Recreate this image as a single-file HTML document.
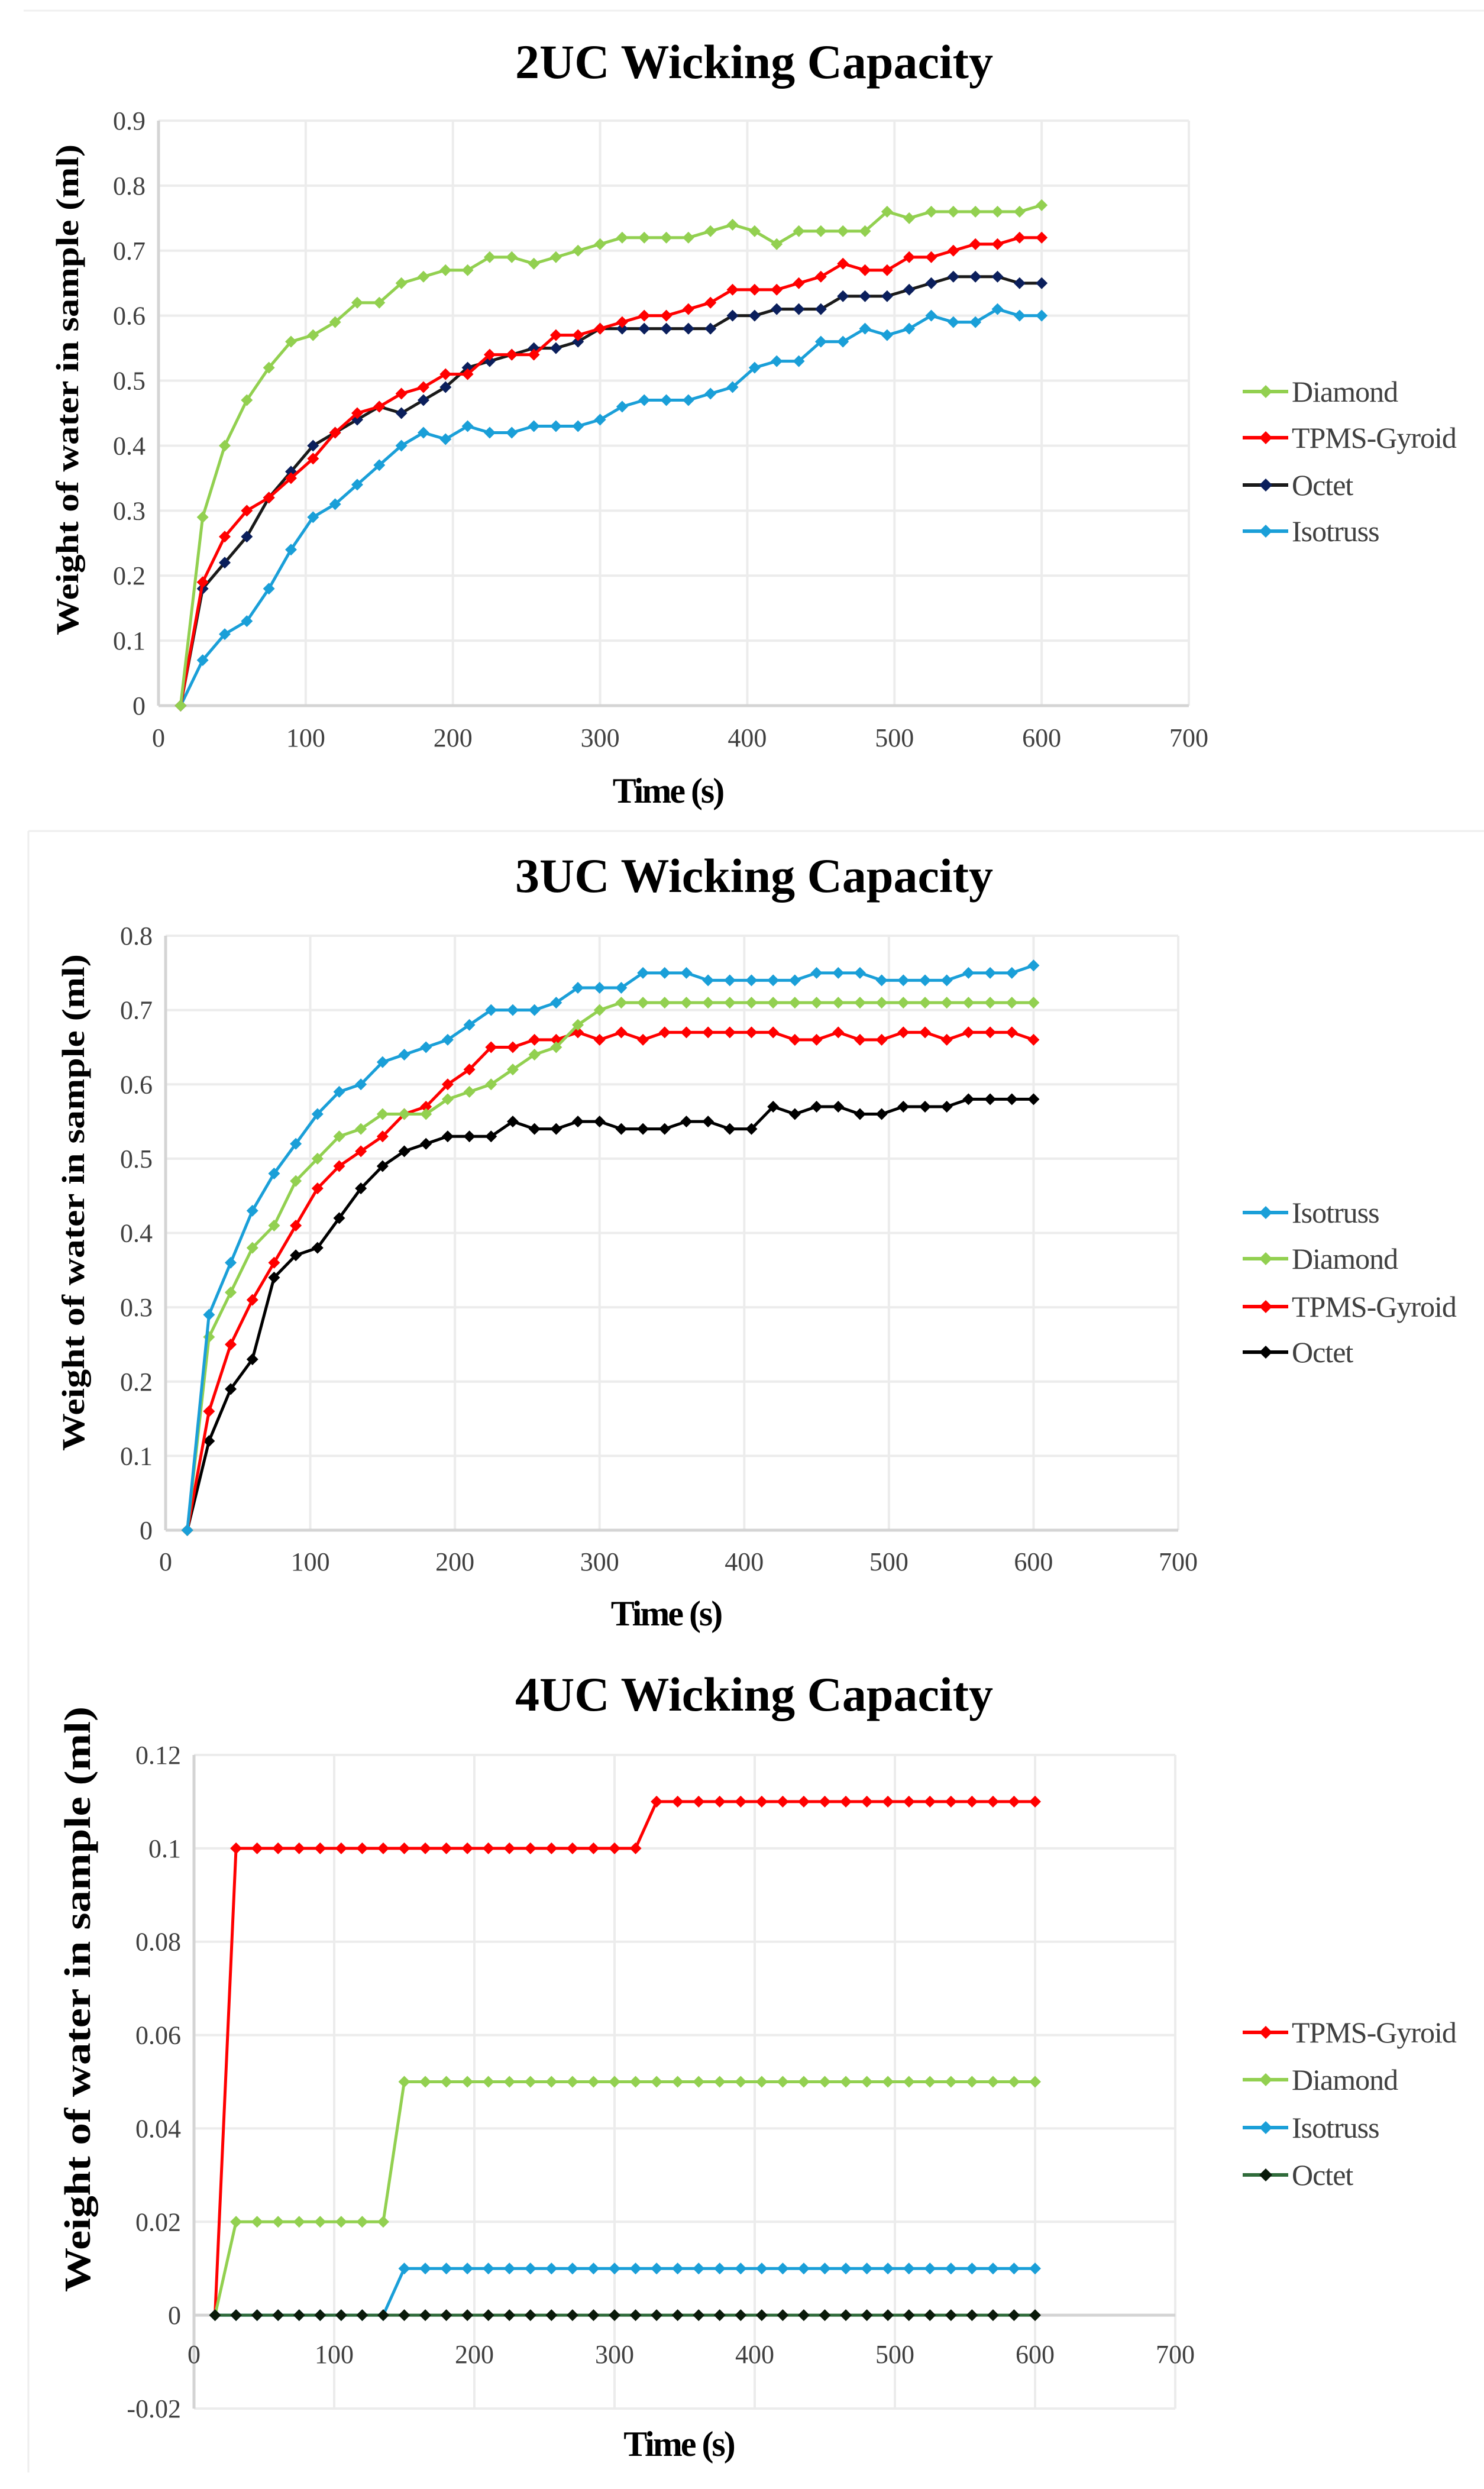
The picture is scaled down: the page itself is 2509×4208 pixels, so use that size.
<!DOCTYPE html>
<html><head><meta charset="utf-8"><style>
html,body{margin:0;padding:0;background:#fff;}
svg{display:block;}
text{font-family:"Liberation Serif",serif;}
</style></head><body>
<svg id="root" width="2509" height="4208" viewBox="0 0 2509 4208" xmlns="http://www.w3.org/2000/svg">
<rect x="0" y="0" width="2509" height="4208" fill="#fff"/>
<line x1="40" y1="18" x2="2509" y2="18" stroke="#f0f0f0" stroke-width="3"/>
<line x1="48" y1="1405" x2="2509" y2="1405" stroke="#eeeeee" stroke-width="3"/>
<line x1="48" y1="1405" x2="48" y2="2780" stroke="#eeeeee" stroke-width="3"/>
<line x1="48" y1="2780" x2="48" y2="4180" stroke="#eeeeee" stroke-width="3"/>
</svg>
<script>
// ---------- shared time axis ----------
const times = [15,30,45,60,75,90,105,120,135,150,165,180,195,210,225,240,255,270,285,300,315,330,345,360,375,390,405,420,435,450,465,480,495,510,525,540,555,570,585,600];
const xTicks = [0,100,200,300,400,500,600,700];

// ---------- chart 1: 2UC ----------
const c1Diamond = [0,0.29,0.40,0.47,0.52,0.56,0.57,0.59,0.62,0.62,0.65,0.66,0.67,0.67,0.69,0.69,0.68,0.69,0.70,0.71,0.72,0.72,0.72,0.72,0.73,0.74,0.73,0.71,0.73,0.73,0.73,0.73,0.76,0.75,0.76,0.76,0.76,0.76,0.76,0.77];
const c1Gyroid = [0,0.19,0.26,0.30,0.32,0.35,0.38,0.42,0.45,0.46,0.48,0.49,0.51,0.51,0.54,0.54,0.54,0.57,0.57,0.58,0.59,0.60,0.60,0.61,0.62,0.64,0.64,0.64,0.65,0.66,0.68,0.67,0.67,0.69,0.69,0.70,0.71,0.71,0.72,0.72];
const c1Octet = [0,0.18,0.22,0.26,0.32,0.36,0.40,0.42,0.44,0.46,0.45,0.47,0.49,0.52,0.53,0.54,0.55,0.55,0.56,0.58,0.58,0.58,0.58,0.58,0.58,0.60,0.60,0.61,0.61,0.61,0.63,0.63,0.63,0.64,0.65,0.66,0.66,0.66,0.65,0.65];
const c1Isotruss = [0,0.07,0.11,0.13,0.18,0.24,0.29,0.31,0.34,0.37,0.40,0.42,0.41,0.43,0.42,0.42,0.43,0.43,0.43,0.44,0.46,0.47,0.47,0.47,0.48,0.49,0.52,0.53,0.53,0.56,0.56,0.58,0.57,0.58,0.60,0.59,0.59,0.61,0.60,0.60];
const c1YTicks = ["0","0.1","0.2","0.3","0.4","0.5","0.6","0.7","0.8","0.9"];

// ---------- chart 2: 3UC ----------
const c2Isotruss = [0,0.29,0.36,0.43,0.48,0.52,0.56,0.59,0.60,0.63,0.64,0.65,0.66,0.68,0.70,0.70,0.70,0.71,0.73,0.73,0.73,0.75,0.75,0.75,0.74,0.74,0.74,0.74,0.74,0.75,0.75,0.75,0.74,0.74,0.74,0.74,0.75,0.75,0.75,0.76];
const c2Diamond = [0,0.26,0.32,0.38,0.41,0.47,0.50,0.53,0.54,0.56,0.56,0.56,0.58,0.59,0.60,0.62,0.64,0.65,0.68,0.70,0.71,0.71,0.71,0.71,0.71,0.71,0.71,0.71,0.71,0.71,0.71,0.71,0.71,0.71,0.71,0.71,0.71,0.71,0.71,0.71];
const c2Gyroid = [0,0.16,0.25,0.31,0.36,0.41,0.46,0.49,0.51,0.53,0.56,0.57,0.60,0.62,0.65,0.65,0.66,0.66,0.67,0.66,0.67,0.66,0.67,0.67,0.67,0.67,0.67,0.67,0.66,0.66,0.67,0.66,0.66,0.67,0.67,0.66,0.67,0.67,0.67,0.66];
const c2Octet = [0,0.12,0.19,0.23,0.34,0.37,0.38,0.42,0.46,0.49,0.51,0.52,0.53,0.53,0.53,0.55,0.54,0.54,0.55,0.55,0.54,0.54,0.54,0.55,0.55,0.54,0.54,0.57,0.56,0.57,0.57,0.56,0.56,0.57,0.57,0.57,0.58,0.58,0.58,0.58];
const c2YTicks = ["0","0.1","0.2","0.3","0.4","0.5","0.6","0.7","0.8"];

// ---------- chart 3: 4UC ----------
const c3Gyroid = [0,0.1,0.1,0.1,0.1,0.1,0.1,0.1,0.1,0.1,0.1,0.1,0.1,0.1,0.1,0.1,0.1,0.1,0.1,0.1,0.1,0.11,0.11,0.11,0.11,0.11,0.11,0.11,0.11,0.11,0.11,0.11,0.11,0.11,0.11,0.11,0.11,0.11,0.11,0.11];
const c3Diamond = [0,0.02,0.02,0.02,0.02,0.02,0.02,0.02,0.02,0.05,0.05,0.05,0.05,0.05,0.05,0.05,0.05,0.05,0.05,0.05,0.05,0.05,0.05,0.05,0.05,0.05,0.05,0.05,0.05,0.05,0.05,0.05,0.05,0.05,0.05,0.05,0.05,0.05,0.05,0.05];
const c3Isotruss = [0,0,0,0,0,0,0,0,0,0.01,0.01,0.01,0.01,0.01,0.01,0.01,0.01,0.01,0.01,0.01,0.01,0.01,0.01,0.01,0.01,0.01,0.01,0.01,0.01,0.01,0.01,0.01,0.01,0.01,0.01,0.01,0.01,0.01,0.01,0.01];
const c3Octet = [0,0,0,0,0,0,0,0,0,0,0,0,0,0,0,0,0,0,0,0,0,0,0,0,0,0,0,0,0,0,0,0,0,0,0,0,0,0,0,0];
const c3YTicks = ["-0.02","0","0.02","0.04","0.06","0.08","0.1","0.12"];

const NS = "http://www.w3.org/2000/svg";
const root = document.getElementById('root');
function mk(tag, attrs, parent){
  const e = document.createElementNS(NS, tag);
  for (const k in attrs) e.setAttribute(k, attrs[k]);
  (parent||root).appendChild(e);
  return e;
}
const GREEN="#92D050", RED="#FF0000", BLUE="#1A9FD8";

function drawChart(cfg){
  const g = mk('g', {});
  
  
  const xs = v => cfg.L + (v - 0) / 700 * (cfg.R - cfg.L);
  const ys = v => cfg.B - (v - cfg.ymin) / (cfg.ymax - cfg.ymin) * (cfg.B - cfg.T);
  const t = mk('text', {x: cfg.titleX, y: cfg.titleY, 'text-anchor':'middle', 'font-size':82, 'font-weight':'bold', fill:'#000'}, g);
  t.textContent = cfg.title;
  
  
  const grid = mk('g', {}, g);
  
  
  cfg.yTicks.forEach(lbl => {
    const v = parseFloat(lbl);
    mk('line', {x1: cfg.L, x2: cfg.R, y1: ys(v), y2: ys(v), stroke: '#ececec', 'stroke-width': 4}, grid);
  });
  xTicks.forEach(v => {
    mk('line', {x1: xs(v), x2: xs(v), y1: cfg.T, y2: cfg.B, stroke: '#ececec', 'stroke-width': 4}, grid);
  });
  const ax = mk('line', {x1: cfg.L, x2: cfg.L, y1: cfg.T, y2: cfg.B, stroke:'#d4d4d4', 'stroke-width':5}, g);
  
  
  const bx = mk('line', {x1: cfg.L, x2: cfg.R, y1: ys(0), y2: ys(0), stroke:'#d4d4d4', 'stroke-width':5}, g);
  
  
  cfg.yTicks.forEach(lbl => {
    const v = parseFloat(lbl);
    const e = mk('text', {x: cfg.L - 22, y: ys(v) + 15, 'text-anchor':'end', 'font-size':44, fill:'#404040'}, g);
    e.textContent = lbl;
    
    
  });
  xTicks.forEach(v => {
    const e = mk('text', {x: xs(v), y: cfg.xLabY, 'text-anchor':'middle', 'font-size':44, fill:'#404040'}, g);
    e.textContent = String(v);
    
    
  });
  const xt = mk('text', {x: (cfg.L + cfg.R)/2 - 10, y: cfg.xTitleY, 'text-anchor':'middle', 'font-size':60, 'font-weight':'bold', fill:'#000', 'letter-spacing':'-3'}, g);
  xt.textContent = 'Time (s)';
  
  
  const yt = mk('text', {x: 0, y: 0, 'text-anchor':'middle', 'font-size':cfg.yTitleSize, 'font-weight':'bold', fill:'#000', textLength: cfg.yTitleLen, lengthAdjust:'spacingAndGlyphs', transform:'translate(' + cfg.yTitleX + ',' + cfg.yTitleY + ') rotate(-90)'}, g);
  yt.textContent = 'Weight of water in sample (ml)';
  
  
  cfg.series.forEach(s => {
    const sg = mk('g', {}, g);
    
    
    const pts = s.values.map((v, i) => xs(times[i]) + ',' + ys(v)).join(' ');
    const pl = mk('polyline', {points: pts, fill:'none', stroke: s.line || s.color, 'stroke-width':5, 'stroke-linejoin':'round'}, sg);
    
    
    s.values.forEach((v, i) => {
      const cx = xs(times[i]), cy = ys(v), r = 10;
      const m = mk('polygon', {points: (cx)+','+(cy-r)+' '+(cx+r)+','+cy+' '+cx+','+(cy+r)+' '+(cx-r)+','+cy, fill: s.color}, sg);
      
      
    });
  });
  const lg = mk('g', {}, g);
  
  
  cfg.legend.forEach((s, i) => {
    const y = cfg.legY[i];
    const eg = mk('g', {}, lg);
    
    
    mk('line', {x1: 2101, x2: 2178, y1: y, y2: y, stroke: s.line || s.color, 'stroke-width':6}, eg);
    mk('polygon', {points: '2140,'+(y-11)+' 2151,'+y+' 2140,'+(y+11)+' 2129,'+y, fill: s.color}, eg);
    const tx = mk('text', {x: 2184, y: y + 17, 'font-size':50, fill:'#404040', 'letter-spacing':'-1'}, eg);
    tx.textContent = s.label;
  });
}

const s1 = {
  diamond: {key:'diamond', label:'Diamond', color:GREEN, values:c1Diamond},
  gyroid: {key:'tpms-gyroid', label:'TPMS-Gyroid', color:RED, values:c1Gyroid},
  octet: {key:'octet', label:'Octet', color:'#0B1F5C', line:'#1a1a1a', values:c1Octet},
  iso: {key:'isotruss', label:'Isotruss', color:BLUE, values:c1Isotruss}
};
drawChart({name:'chart-2uc', title:'2UC Wicking Capacity', titleX:1275, titleY:132,
  L:268, R:2010, T:204, B:1193, ymin:0, ymax:0.9, yTicks:c1YTicks, xLabY:1262,
  xTitleY:1357, yTitleX:132, yTitleY:659, yTitleLen:830, yTitleSize:54,
  series:[s1.iso, s1.octet, s1.gyroid, s1.diamond],
  legend:[s1.diamond, s1.gyroid, s1.octet, s1.iso], legY:[662,740,820,898]});

const s2 = {
  iso: {key:'isotruss', label:'Isotruss', color:BLUE, values:c2Isotruss},
  diamond: {key:'diamond', label:'Diamond', color:GREEN, values:c2Diamond},
  gyroid: {key:'tpms-gyroid', label:'TPMS-Gyroid', color:RED, values:c2Gyroid},
  octet: {key:'octet', label:'Octet', color:'#000', values:c2Octet}
};
drawChart({name:'chart-3uc', title:'3UC Wicking Capacity', titleX:1275, titleY:1508,
  L:280, R:1992, T:1582, B:2587, ymin:0, ymax:0.8, yTicks:c2YTicks, xLabY:2655,
  xTitleY:2748, yTitleX:142, yTitleY:2033, yTitleLen:840, yTitleSize:54,
  series:[s2.octet, s2.gyroid, s2.diamond, s2.iso],
  legend:[s2.iso, s2.diamond, s2.gyroid, s2.octet], legY:[2050,2128,2209,2286]});

const s3 = {
  gyroid: {key:'tpms-gyroid', label:'TPMS-Gyroid', color:RED, values:c3Gyroid},
  diamond: {key:'diamond', label:'Diamond', color:GREEN, values:c3Diamond},
  iso: {key:'isotruss', label:'Isotruss', color:BLUE, values:c3Isotruss},
  octet: {key:'octet', label:'Octet', color:'#0a1a0a', line:'#2f6b3a', values:c3Octet}
};
drawChart({name:'chart-4uc', title:'4UC Wicking Capacity', titleX:1275, titleY:2892,
  L:328, R:1987, T:2967, B:4072, ymin:-0.02, ymax:0.12, yTicks:c3YTicks, xLabY:3995,
  xTitleY:4152, yTitleX:152, yTitleY:3380, yTitleLen:990, yTitleSize:62,
  series:[s3.gyroid, s3.diamond, s3.iso, s3.octet],
  legend:[s3.gyroid, s3.diamond, s3.iso, s3.octet], legY:[3436,3516,3597,3677]});
</script>
</body></html>
